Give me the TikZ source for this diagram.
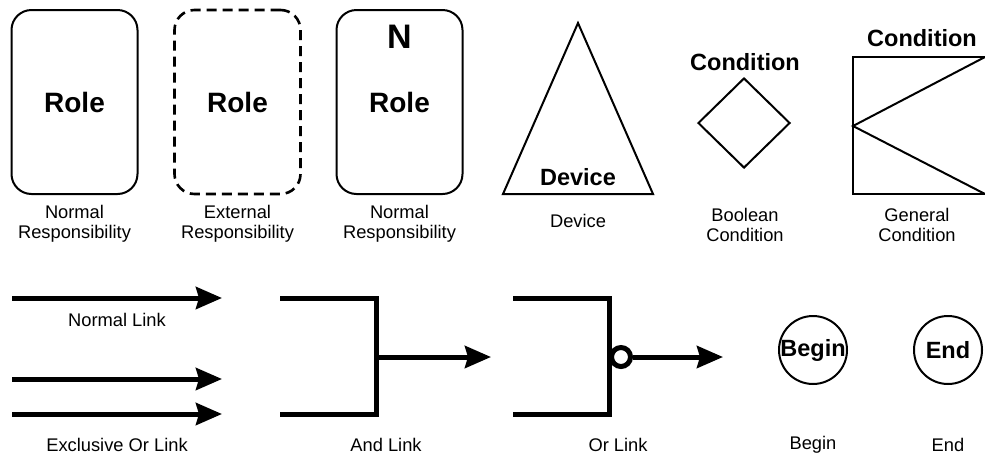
\documentclass[tikz,border=0pt]{standalone}
\usepackage{fontspec}
\setmainfont{Liberation Sans}
\usetikzlibrary{arrows.meta,shapes.geometric}

\begin{document}
\begin{tikzpicture}[x=1pt,y=-1pt,
  role/.style={rectangle,rounded corners=20pt,draw=black,line width=2pt,minimum width=126pt,minimum height=184pt},
  bold/.style={font=\fontsize{23.5}{28}\selectfont\bfseries,inner sep=0pt},
  big/.style={font=\fontsize{28}{32}\selectfont\bfseries,inner sep=0pt},
  caption/.style={font=\fontsize{18.3}{20.5}\selectfont,align=center,inner sep=0pt},
  outline/.style={draw=black,line width=2pt},
  link/.style={line width=5pt,-{Stealth[length=26pt,width=22pt,inset=3pt]}},
  gate/.style={line width=5pt,line join=miter}]

\useasboundingbox (0,0) rectangle (985,456);

% responsibilities
\node[role] (r1) at (74.5,102) {};
\node[role,line width=2.6pt,dash pattern=on 10pt off 6pt] (r2) at (237.5,102) {};
\node[role] (r3) at (399.5,102) {};
\node[big] at (r1) {Role};
\node[big] at (r2) {Role};
\node[big] at (r3) {Role};
\node[font=\fontsize{34}{36}\selectfont\bfseries,inner sep=0pt] (n) at (399.5,37) {N};
\node[caption] (c1) at (74.5,224) {Normal\\Responsibility};
\node[caption] (c2) at (237.5,224) {External\\Responsibility};
\node[caption] (c3) at (399.5,224) {Normal\\Responsibility};

% device
\draw[outline,line join=miter] (503,194) -- (578,23) -- (653,194) -- cycle;
\node[bold] (dev) at (578,177) {Device};
\node[caption] (c4) at (578,221) {Device};

% conditions
\node[diamond,outline,minimum width=92pt,minimum height=90pt,inner sep=0pt] (bc) at (744,123) {};
\node[bold] (bct) at (745,62) {Condition};
\node[caption] (c5) at (745,225) {Boolean\\Condition};
\draw[outline] (985,57) -- (853,57) -- (853,194) -- (985,194);
\draw[outline] (985,57) -- (853,126) -- (985,194);
\node[bold] (gct) at (922,38) {Condition};
\node[caption] (c6) at (917,225) {General\\Condition};

% links
\coordinate (nl1) at (12,298);  \coordinate (nl2) at (222,298);
\coordinate (xl1) at (12,379);  \coordinate (xl2) at (222,379);
\coordinate (xl3) at (12,414);  \coordinate (xl4) at (222,414);
\draw[link] (nl1) -- (nl2);
\draw[link] (xl1) -- (xl2);
\draw[link] (xl3) -- (xl4);
\node[caption] (c7) at (117,320) {Normal Link};
\node[caption] (c8) at (117,445) {Exclusive Or Link};

\coordinate (and1) at (280,298); \coordinate (and2) at (376,298);
\coordinate (and3) at (376,414); \coordinate (and4) at (280,414);
\coordinate (and5) at (376,357); \coordinate (and6) at (491,357);
\draw[gate] (and1) -- (and2) -- (and3) -- (and4);
\draw[link] (and5) -- (and6);
\node[caption] (c9) at (386,445) {And Link};

\coordinate (or1) at (513,298); \coordinate (or2) at (609,298);
\coordinate (or3) at (609,414); \coordinate (or4) at (513,414);
\coordinate (or6) at (723,357);
\draw[gate] (or1) -- (or2) -- (or3) -- (or4);
\node[circle,draw=black,line width=5pt,fill=white,minimum size=19pt,inner sep=0pt] (orc) at (621,357) {};
\draw[link] (orc) -- (or6);
\node[caption] (c10) at (618,445) {Or Link};

% begin and end
\node[circle,outline,minimum size=68pt,inner sep=0pt] (bg) at (813,350) {};
\node[bold] at (bg) {Begin};
\node[circle,outline,minimum size=68pt,inner sep=0pt] (en) at (948,350) {};
\node[bold] at (en) {End};
\node[caption] (c11) at (813,445) {Begin};
\node[caption] (c12) at (948,445) {End};

\end{tikzpicture}
\end{document}
